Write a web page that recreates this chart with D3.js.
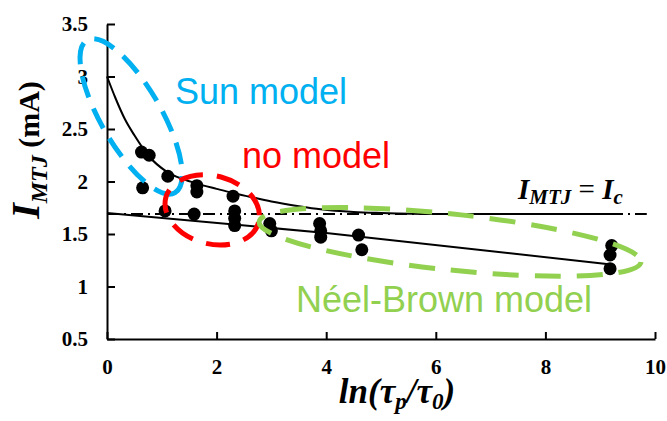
<!DOCTYPE html>
<html lang="en">
<head>
  <meta charset="utf-8">
  <title>I_MTJ vs ln(tau_p/tau_0)</title>
  <script src="https://d3js.org/d3.v7.min.js"></script>
  <style>
    body { margin: 0; background: #fff; }
    .tick text { font-family: "Liberation Serif", "Times New Roman", serif; font-weight: bold; font-size: 21px; fill: #000; }
    .lbl { font-family: "Liberation Serif", "Times New Roman", serif; font-weight: bold; fill: #000; }
    .model { font-family: "Liberation Sans", Arial, sans-serif; font-size: 36px; }
  </style>
</head>
<body>
<script>
// measured points: ln(tau_p/tau_0) vs I_MTJ (mA)
var ptsX = [0.63, 0.77, 0.65, 1.11, 1.06, 1.64, 1.64, 1.59, 2.30, 2.33, 2.33, 2.33,
            2.97, 3.00, 3.88, 3.90, 3.90, 4.59, 4.65, 9.21, 9.18, 9.18];
var ptsY = [2.28, 2.25, 1.94, 2.05, 1.72, 1.96, 1.90, 1.69, 1.86, 1.72, 1.65, 1.58,
            1.60, 1.53, 1.60, 1.53, 1.47, 1.49, 1.35, 1.39, 1.30, 1.17];

// Sun model fit curve
var sunX = [0, 0.15, 0.33, 0.5, 0.75, 1.1, 1.4, 1.64, 2.0, 2.3, 2.6, 3.0, 3.5, 3.9, 4.5, 5.0, 6.0, 7.0, 8.0, 9.2];
var sunY = [3.00, 2.80, 2.59, 2.44, 2.25, 2.09, 2.02, 1.98, 1.93, 1.89, 1.855, 1.81, 1.765, 1.735, 1.71, 1.70, 1.69, 1.69, 1.69, 1.69];

// Neel-Brown fit line
var nbX = [0, 4, 9.2];
var nbY = [1.70, 1.51, 1.21];

// I_MTJ = I_c reference
var icX = [0, 9.85];
var icY = [1.69, 1.69];

var xTicks = [0, 2, 4, 6, 8, 10];
var yTicks = [0.5, 1, 1.5, 2, 2.5, 3, 3.5];

var W = 667, H = 421;
var svg = d3.select("body").append("svg").attr("width", W).attr("height", H);

var x = d3.scaleLinear().domain([0, 10]).range([107, 655]);
var y = d3.scaleLinear().domain([0.5, 3.5]).range([339, 24]);

svg.append("g")
    .attr("transform", "translate(0," + y(0.5) + ")")
    .call(d3.axisBottom(x).tickValues(xTicks).tickFormat(d3.format("d"))
        .tickSizeInner(-7).tickSizeOuter(0).tickPadding(20));
svg.append("g")
    .attr("transform", "translate(" + x(0) + ",0)")
    .call(d3.axisLeft(y).tickValues(yTicks).tickFormat(function(d) { return d; })
        .tickSizeInner(-8).tickSizeOuter(0).tickPadding(19));
svg.selectAll(".domain").attr("stroke", "#000").attr("stroke-width", 2);
svg.selectAll(".tick line").attr("stroke", "#000").attr("stroke-width", 2);

var line = d3.line().x(function(d) { return x(d[0]); }).y(function(d) { return y(d[1]); });

// Ic dash-dot
svg.append("path")
    .datum(d3.zip(icX, icY))
    .attr("d", line)
    .attr("fill", "none").attr("stroke", "#000").attr("stroke-width", 2)
    .attr("stroke-dasharray", "12 5 2 5");

// Sun model curve
svg.append("path")
    .datum(d3.zip(sunX, sunY))
    .attr("d", line.curve(d3.curveMonotoneX))
    .attr("fill", "none").attr("stroke", "#000").attr("stroke-width", 2);

// Neel-Brown line
svg.append("path")
    .datum(d3.zip(nbX, nbY))
    .attr("d", d3.line().x(function(d) { return x(d[0]); }).y(function(d) { return y(d[1]); }))
    .attr("fill", "none").attr("stroke", "#000").attr("stroke-width", 2);

// points
svg.selectAll("circle.pt")
    .data(d3.zip(ptsX, ptsY))
    .enter().append("circle")
    .attr("class", "pt")
    .attr("cx", function(d) { return x(d[0]); })
    .attr("cy", function(d) { return y(d[1]); })
    .attr("r", 6.5)
    .attr("fill", "#000");

// dashed ellipses around the model regions
var ellipses = [
  { cx: 0.44, cy: 2.62, rx: 88, ry: 30, rot: 60, color: "#00B0F0", dash: "22 12" },
  { cx: 1.92, cy: 1.73, rx: 48, ry: 34, rot: 15, color: "#FF0000", dash: "24 14" },
  { cx: 6.26, cy: 1.425, rx: 192, ry: 28, rot: 6, color: "#92D050", dash: "26 16" }
];
svg.selectAll("ellipse")
    .data(ellipses)
    .enter().append("ellipse")
    .attr("transform", function(d) { return "translate(" + x(d.cx) + "," + y(d.cy) + ") rotate(" + d.rot + ")"; })
    .attr("rx", function(d) { return d.rx; })
    .attr("ry", function(d) { return d.ry; })
    .attr("fill", "none")
    .attr("stroke", function(d) { return d.color; })
    .attr("stroke-width", 5)
    .attr("stroke-dasharray", function(d) { return d.dash; });

// model labels
svg.append("text").attr("class", "model").attr("x", 175).attr("y", 104).attr("fill", "#00B0F0").text("Sun model");
svg.append("text").attr("class", "model").attr("x", 242).attr("y", 168).attr("fill", "#FF0000").text("no model");
svg.append("text").attr("class", "model").attr("x", 296).attr("y", 312).attr("fill", "#92D050").text("Néel-Brown model");

// I_MTJ = I_c
var eq = svg.append("text").attr("class", "lbl").attr("x", 518).attr("y", 199).style("font-style", "italic");
eq.append("tspan").attr("font-size", 29).text("I");
eq.append("tspan").attr("font-size", 21).attr("dy", 5).text("MTJ");
eq.append("tspan").attr("font-size", 29).attr("dy", -5).style("font-style", "normal").style("font-weight", "normal").text(" = ");
eq.append("tspan").attr("font-size", 29).text("I");
eq.append("tspan").attr("font-size", 21).attr("dy", 5).text("c");

// x label
var xl = svg.append("text").attr("class", "lbl").attr("x", 397).attr("y", 403)
    .attr("text-anchor", "middle").style("font-style", "italic");
xl.append("tspan").attr("font-size", 35).text("ln(τ");
xl.append("tspan").attr("font-size", 23).attr("dy", 6).text("p");
xl.append("tspan").attr("font-size", 35).attr("dy", -6).text("/τ");
xl.append("tspan").attr("font-size", 23).attr("dy", 6).text("0");
xl.append("tspan").attr("font-size", 35).attr("dy", -6).text(")");

// y label
var yl = svg.append("text").attr("class", "lbl")
    .attr("transform", "translate(39,150) rotate(-90)")
    .attr("text-anchor", "middle");
yl.append("tspan").attr("font-size", 40).style("font-style", "italic").text("I");
yl.append("tspan").attr("font-size", 24).style("font-style", "italic").attr("dy", 8).text("MTJ");
yl.append("tspan").attr("font-size", 30).attr("dy", -8).text(" (mA)");
</script>
</body>
</html>
